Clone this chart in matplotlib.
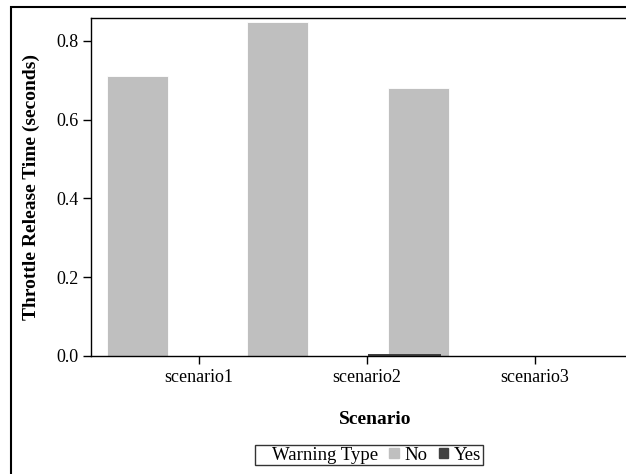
import matplotlib.pyplot as plt
import numpy as np
from matplotlib.patches import Patch, Rectangle

plt.rcParams['font.family'] = ['Liberation Serif', 'DejaVu Serif']

scenarios = ['scenario1', 'scenario2', 'scenario3']
warning_types = ['No', 'Yes']
time_no = [0.711, 0.848, 0.680]
time_yes = [0.0, 0.005, 0.0]
colors = {'No': '#bfbfbf', 'Yes': '#404040'}

fig = plt.figure(figsize=(6.26, 4.74), dpi=100)

# outer frame (cropped at right and bottom like the original)
fig.patches.append(Rectangle((11 / 626, -0.2), 1.2, 1.2 - 7 / 474,
                             transform=fig.transFigure, fill=False,
                             edgecolor='black', linewidth=1.5))

ax = fig.add_axes([91 / 626, 1 - 356 / 474, (660 - 91) / 626, (356 - 18) / 474])

x = np.arange(len(scenarios))
# bars sit on their own spacing, not on the tick centres (as in the original)
x_no = -0.366 + 0.836 * x
x_yes = x_no + 0.753
ax.bar(x_no, time_no, width=0.363, color=colors['No'],
       edgecolor='white', linewidth=0.6)
ax.bar(x_yes, time_yes, width=0.435, color=colors['Yes'], linewidth=0)

ax.set_xlim(-0.643, 2.744)
ax.set_ylim(0, 0.858)
ax.set_xticks(x)
ax.set_xticklabels(scenarios, fontsize=13)
ax.set_yticks([0.0, 0.2, 0.4, 0.6, 0.8])
ax.set_yticklabels(['0.0', '0.2', '0.4', '0.6', '0.8'], fontsize=13)
ax.tick_params(length=6, width=1, color='black', pad=3)
for s in ax.spines.values():
    s.set_color('black')
    s.set_linewidth(1)

ax.set_xlabel('Scenario', fontsize=14, fontweight='bold', labelpad=18)
ax.set_ylabel('Throttle Release Time (seconds)', fontsize=14,
              fontweight='bold', labelpad=12)

handles = [Patch(visible=False), Patch(color=colors['No']), Patch(color=colors['Yes'])]
leg = fig.legend(handles, ['Warning Type'] + warning_types, ncol=3,
                 loc='center', bbox_to_anchor=(369 / 626, 1 - 455 / 474),
                 fontsize=13.5, frameon=True, fancybox=False,
                 handlelength=0.5, handleheight=0.5, handletextpad=0.3,
                 columnspacing=0.6, borderpad=0.1, borderaxespad=0)
leg.get_frame().set_edgecolor('black')
leg.get_frame().set_linewidth(1)

fig.savefig('out.png', dpi=100)
